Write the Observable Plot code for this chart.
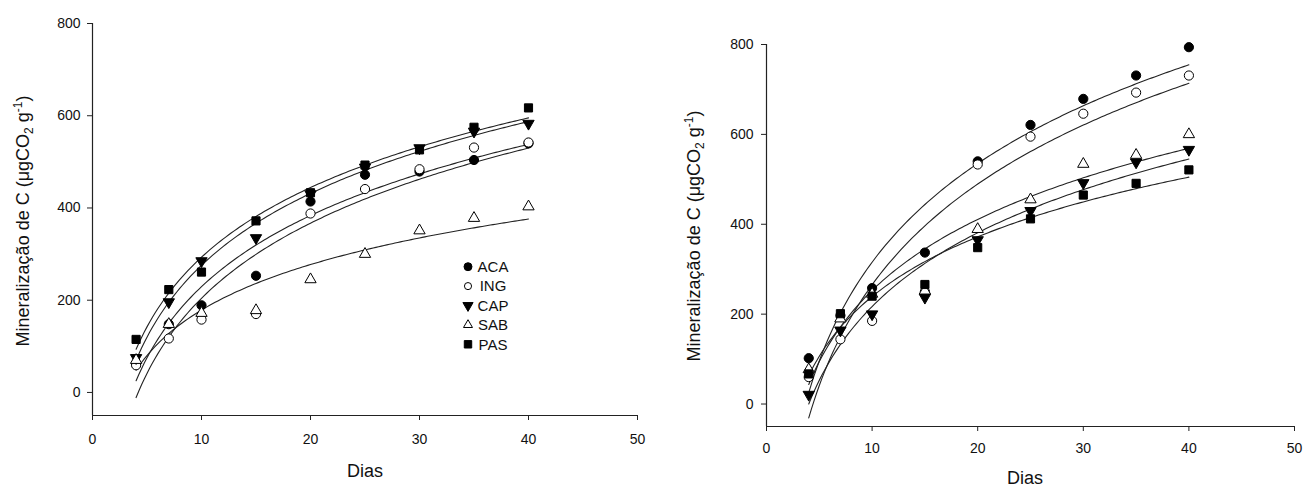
<!DOCTYPE html>
<html>
<head>
<meta charset="utf-8">
<script src="https://cdn.jsdelivr.net/npm/d3@7"></script>
<script src="https://cdn.jsdelivr.net/npm/@observablehq/plot@0.6"></script>
<style>
  html, body { margin: 0; padding: 0; background: #fff; }
  #wrap { display: flex; width: 1303px; height: 486px; }
  svg { font-family: Arial, "Liberation Sans", sans-serif; }
</style>
</head>
<body>
<div id="wrap"></div>
<script>
// ---- data ----
const days = [4, 7, 10, 15, 20, 25, 30, 35, 40];
const seriesNames = ["ACA", "ING", "CAP", "SAB", "PAS"];
const xTicks = [0, 10, 20, 30, 40, 50];
const yTicks = [0, 200, 400, 600, 800];

// left panel
const ACA_L = [62, 148, 189, 253, 414, 472, 479, 504, 540];
const ING_L = [59, 117, 158, 170, 388, 441, 484, 531, 542];
const CAP_L = [75, 196, 285, 335, 430, 488, 530, 566, 583];
const SAB_L = [70, 148, 172, 178, 245, 300, 351, 378, 403];
const PAS_L = [115, 223, 261, 372, 433, 493, 526, 575, 617];

// right panel
const ACA_R = [102, 197, 258, 337, 540, 621, 679, 731, 794];
const ING_R = [60, 144, 185, 250, 533, 595, 646, 693, 731];
const CAP_R = [21, 164, 200, 237, 365, 430, 492, 538, 566];
const SAB_R = [77, 190, 245, 252, 389, 455, 534, 554, 600];
const PAS_R = [67, 201, 240, 266, 348, 412, 465, 491, 521];

// ---- symbols ----
const triangleDown = {
  draw(context, size) {
    const y = -Math.sqrt(size / (Math.sqrt(3) * 3));
    context.moveTo(0, -y * 2);
    context.lineTo(Math.sqrt(3) * y, y);
    context.lineTo(-Math.sqrt(3) * y, y);
    context.closePath();
  }
};
const styles = {
  ACA: {symbol: "circle", fill: "#000", r: 4.6},
  ING: {symbol: "circle", fill: "#fff", r: 4.6},
  CAP: {symbol: triangleDown, fill: "#000", r: 4.2},
  SAB: {symbol: "triangle", fill: "#fff", r: 4.2},
  PAS: {symbol: "square", fill: "#000", r: 4.6}
};

// log fit y = a + b ln(x) (regression curves of the original)
function logFit(xs, ys) {
  const lx = xs.map(Math.log);
  const mx = d3.mean(lx), my = d3.mean(ys);
  let sxy = 0, sxx = 0;
  lx.forEach((v, i) => { sxy += (v - mx) * (ys[i] - my); sxx += (v - mx) ** 2; });
  const b = sxy / sxx, a = my - b * mx;
  return x => a + b * Math.log(x);
}

function panel(seriesVals, opt) {
  const pts = [];
  const curves = [];
  seriesNames.forEach((name, k) => {
    const ys = seriesVals[k];
    days.forEach((d, i) => pts.push({name, day: d, v: ys[i]}));
    const f = logFit(days, ys);
    for (let t = 4; t <= 40.0001; t += 0.25) curves.push({name, day: t, v: f(t)});
  });
  const marks = [
    Plot.ruleY([-50], {stroke: "#222", strokeWidth: 1.2}),
    Plot.ruleX([0], {stroke: "#222", strokeWidth: 1.2}),
    Plot.axisX({ticks: xTicks, tickSize: 5, tickPadding: opt.xPad, fontSize: 14, stroke: "#222", fill: "#111", label: null}),
    Plot.axisY({ticks: yTicks, tickSize: 5, tickPadding: opt.yPad, fontSize: 14, stroke: "#222", fill: "#111", label: null}),
    Plot.line(curves, {x: "day", y: "v", z: "name", stroke: "#222", strokeWidth: 1.1, curve: "linear"})
  ];
  seriesNames.forEach(name => {
    const s = styles[name];
    marks.push(Plot.dot(pts.filter(p => p.name === name), {
      x: "day", y: "v", symbol: s.symbol, r: s.r, fill: s.fill, stroke: "#000", strokeWidth: 1
    }));
  });
  const svg = Plot.plot({
    width: opt.width, height: 486,
    marginLeft: opt.ml, marginRight: opt.mr, marginTop: opt.mt, marginBottom: opt.mb,
    x: {domain: [0, 50]},
    y: {domain: [-50, 800]},
    style: {fontFamily: "Arial, 'Liberation Sans', sans-serif", background: "#fff", overflow: "visible"},
    marks
  });
  const s = d3.select(svg);
  // x title
  s.append("text").attr("x", opt.dx).attr("y", opt.dy).attr("text-anchor", "middle")
    .attr("font-size", 18).attr("fill", "#111").text("Dias");
  // y title with sub / sup
  const t = s.append("text")
    .attr("transform", `translate(${opt.tx},${opt.ty}) rotate(-90)`)
    .attr("text-anchor", "middle").attr("font-size", 18).attr("fill", "#111");
  t.append("tspan").text("Mineralização de C (μgCO");
  t.append("tspan").attr("font-size", 12).attr("dy", 4).text("2");
  t.append("tspan").attr("dy", -4).text(" g");
  t.append("tspan").attr("font-size", 12).attr("dy", -7).text("-1");
  t.append("tspan").attr("dy", 7).text(")");
  return svg;
}

const wrap = document.getElementById("wrap");
const left = panel([ACA_L, ING_L, CAP_L, SAB_L, PAS_L],
  {width: 650, ml: 92, mr: 13, mt: 23, mb: 71, xPad: 14, yPad: 7, dx: 365, dy: 477, tx: 29, ty: 221});
const right = panel([ACA_R, ING_R, CAP_R, SAB_R, PAS_R],
  {width: 653, ml: 116, mr: 9, mt: 44, mb: 60, xPad: 12, yPad: 8, dx: 375, dy: 484, tx: 50, ty: 236});
wrap.appendChild(left);
wrap.appendChild(right);

// legend in left panel
const lg = d3.select(left).append("g");
const legendSym = {
  ACA: {type: d3.symbolCircle, fill: "#000", size: 50},
  ING: {type: d3.symbolCircle, fill: "#fff", size: 40},
  CAP: {type: triangleDown, fill: "#000", size: 45},
  SAB: {type: d3.symbolTriangle, fill: "#fff", size: 35},
  PAS: {type: d3.symbolSquare, fill: "#000", size: 55}
};
seriesNames.forEach((name, i) => {
  const y = 266.7 + i * 19.4;
  const s = legendSym[name];
  lg.append("path").attr("d", d3.symbol(s.type, s.size)())
    .attr("transform", `translate(468,${y})`).attr("fill", s.fill).attr("stroke", "#000").attr("stroke-width", 1);
  lg.append("text").attr("x", 493).attr("y", y + 5.3).attr("font-size", 15).attr("fill", "#111").text(name);
});
</script>
</body>
</html>
